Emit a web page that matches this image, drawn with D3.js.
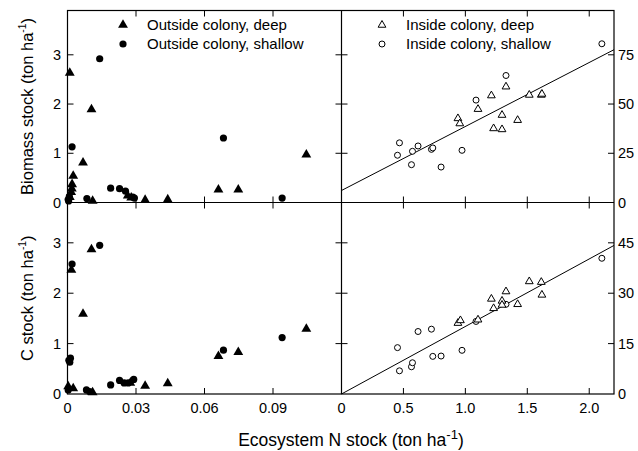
<!DOCTYPE html>
<html>
<head>
<meta charset="utf-8">
<script src="https://cdn.jsdelivr.net/npm/d3@7"></script>
<style>
  html, body { margin: 0; padding: 0; background: #fff; }
  svg { display: block; font-family: "Liberation Sans", Arial, sans-serif; }
</style>
</head>
<body>
<svg id="chart" width="638" height="451"></svg>
<script>
// ---------- data ----------
const leftXTicks = [0, 0.03, 0.06, 0.09];
const rightXTicks = [0, 0.5, 1.0, 1.5, 2.0];
const leftYTicks = [0, 1, 2, 3];
const rightYTicksBiomass = [0, 25, 50, 75];
const rightYTicksC = [0, 15, 30, 45];

// Outside colony (left panels): [N stock, stock]
const outsideDeepBiomass = [
  [0.0010, 2.63], [0.0105, 1.89], [0.0068, 0.81], [0.0025, 0.54], [0.0020, 0.37],
  [0.0019, 0.28], [0.0016, 0.21], [0.0010, 0.11], [0.0110, 0.03], [0.0264, 0.14],
  [0.0279, 0.10], [0.0340, 0.05], [0.0439, 0.06], [0.0661, 0.26], [0.0748, 0.26],
  [0.1046, 0.97]
];
const outsideShallowBiomass = [
  [0.0141, 2.92], [0.0020, 1.13], [0.0683, 1.31], [0.0940, 0.09], [0.0189, 0.29],
  [0.0228, 0.28], [0.0254, 0.23], [0.0286, 0.11], [0.0293, 0.09], [0.0085, 0.08],
  [0.0003, 0.06], [0.0008, 0.12], [0.0005, 0.03]
];
const outsideDeepC = [
  [0.0105, 2.87], [0.0017, 2.46], [0.0068, 1.59], [0.0439, 0.21], [0.0340, 0.16],
  [0.0661, 0.75], [0.0748, 0.83], [0.1046, 1.29], [0.0025, 0.11], [0.0003, 0.15],
  [0.0110, 0.03], [0.0275, 0.22]
];
const outsideShallowC = [
  [0.0141, 2.95], [0.0020, 2.58], [0.0013, 0.71], [0.0010, 0.63], [0.0006, 0.67],
  [0.0940, 1.12], [0.0683, 0.87], [0.0189, 0.18], [0.0228, 0.27], [0.0248, 0.22],
  [0.0266, 0.22], [0.0290, 0.29], [0.0083, 0.08], [0.0097, 0.05], [0.0003, 0.08]
];

// Inside colony (right panels): [N stock, stock]
const insideDeepBiomass = [
  [0.94, 42.7], [0.955, 40.1], [1.102, 47.4], [1.21, 54.3], [1.228, 37.6],
  [1.296, 37.1], [1.296, 44.4], [1.328, 58.8], [1.422, 41.8], [1.516, 54.6],
  [1.613, 54.6], [1.618, 55.1]
];
const insideShallowBiomass = [
  [0.452, 24.0], [0.468, 30.3], [0.565, 19.2], [0.573, 26.0], [0.618, 28.7],
  [0.726, 27.0], [0.737, 27.7], [0.804, 18.0], [0.973, 26.5], [1.086, 52.0],
  [1.328, 64.5], [2.102, 80.6]
];
const insideDeepC = [
  [0.94, 21.1], [0.96, 21.9], [1.102, 22.1], [1.21, 28.3], [1.228, 25.5],
  [1.296, 27.7], [1.296, 26.5], [1.328, 30.5], [1.422, 26.7], [1.516, 33.5],
  [1.613, 33.3], [1.618, 29.5]
];
const insideShallowC = [
  [0.452, 13.8], [0.468, 6.9], [0.565, 8.1], [0.573, 9.3], [0.618, 18.6],
  [0.726, 19.3], [0.737, 11.2], [0.804, 11.3], [0.973, 13.0], [1.086, 21.6],
  [1.328, 26.7], [2.102, 40.4]
];

// fitted regression lines (intercept, slope)
const regBiomass = [6.1, 32.5];
const regC = [0.0, 20.1];

const legendLeft = ["Outside colony, deep", "Outside colony, shallow"];
const legendRight = ["Inside colony, deep", "Inside colony, shallow"];

// ---------- layout ----------
const svg = d3.select("#chart");
const X0 = 67.5, XM = 341.5, X1 = 614;
const Y0 = 10.5, YM = 202.5, Y1 = 394;
const tickLen = 6;
const tickFont = 14.5;

const xLeft = d3.scaleLinear().domain([0, 0.12]).range([X0, XM]);
const xRight = d3.scaleLinear().domain([0, 2.2]).range([XM, X1]);
const yTopL = d3.scaleLinear().domain([0, 3.9]).range([YM, Y0]);
const yTopR = d3.scaleLinear().domain([0, 97.5]).range([YM, Y0]);
const yBotL = d3.scaleLinear().domain([0, 3.8]).range([Y1, YM]);
const yBotR = d3.scaleLinear().domain([0, 57]).range([Y1, YM]);

const frame = svg.append("g").attr("fill", "none").attr("stroke", "#000").attr("stroke-width", 1.2);

// inward ticks on all four sides of a panel
function panelTicks(xs, ys, xt, yt) {
  const g = svg.append("g").attr("stroke", "#000").attr("stroke-width", 1);
  const [ya, yb] = ys.range(); // bottom, top
  const [xa, xb] = xs.range();
  xt.forEach(t => {
    if (t === xs.domain()[0]) return;
    g.append("line").attr("x1", xs(t)).attr("x2", xs(t)).attr("y1", ya).attr("y2", ya - tickLen);
    g.append("line").attr("x1", xs(t)).attr("x2", xs(t)).attr("y1", yb).attr("y2", yb + tickLen);
  });
  yt.forEach(t => {
    if (t === ys.domain()[0]) return;
    g.append("line").attr("x1", xa).attr("x2", xa + tickLen).attr("y1", ys(t)).attr("y2", ys(t));
    g.append("line").attr("x1", xb).attr("x2", xb - tickLen).attr("y1", ys(t)).attr("y2", ys(t));
  });
}
panelTicks(xLeft, yTopL, leftXTicks, leftYTicks);
panelTicks(xLeft, yBotL, leftXTicks, leftYTicks);
panelTicks(xRight, yTopR, rightXTicks, rightYTicksBiomass);
panelTicks(xRight, yBotR, rightXTicks, rightYTicksC);

// frame lines
frame.append("rect").attr("x", X0).attr("y", Y0).attr("width", X1 - X0).attr("height", Y1 - Y0);
frame.append("line").attr("x1", XM).attr("x2", XM).attr("y1", Y0).attr("y2", Y1);
frame.append("line").attr("x1", X0).attr("x2", X1).attr("y1", YM).attr("y2", YM);

// tick labels
const labels = svg.append("g").attr("font-size", tickFont).attr("fill", "#000");
const fmtL = d => d === 0 ? "0" : d3.format(".2f")(d);
const fmtR = d => d === 0 ? "0" : d3.format(".1f")(d);
leftXTicks.forEach(t => labels.append("text").attr("x", xLeft(t)).attr("y", 413).attr("text-anchor", "middle").text(fmtL(t)));
rightXTicks.forEach(t => labels.append("text").attr("x", xRight(t)).attr("y", 413).attr("text-anchor", "middle").text(fmtR(t)));
leftYTicks.forEach(t => {
  labels.append("text").attr("x", 61).attr("y", yTopL(t)).attr("dy", "0.35em").attr("text-anchor", "end").text(t);
  labels.append("text").attr("x", 61).attr("y", yBotL(t)).attr("dy", "0.35em").attr("text-anchor", "end").text(t);
});
rightYTicksBiomass.forEach(t => labels.append("text").attr("x", 618).attr("y", yTopR(t)).attr("dy", "0.35em").text(t));
rightYTicksC.forEach(t => labels.append("text").attr("x", 618).attr("y", yBotR(t)).attr("dy", "0.35em").text(t));

// axis titles
const titleFont = 16.5;
function titleWithSup(g, main, fs, supScale, raise) {
  g.append("tspan").text(main);
  g.append("tspan").attr("font-size", fs * supScale).attr("dy", -raise).text("-1");
  g.append("tspan").attr("dy", raise).text(")");
}
const xt = svg.append("text").attr("x", 351).attr("y", 446).attr("text-anchor", "middle").attr("font-size", 17.5);
titleWithSup(xt, "Ecosystem N stock (ton ha", 17.5, 0.75, 7);
const yt1 = svg.append("text").attr("transform", `translate(33,${(Y0 + YM) / 2}) rotate(-90)`).attr("text-anchor", "middle").attr("font-size", titleFont);
titleWithSup(yt1, "Biomass stock (ton ha", titleFont, 0.62, 7);
const yt2 = svg.append("text").attr("transform", `translate(33,${(YM + Y1) / 2}) rotate(-90)`).attr("text-anchor", "middle").attr("font-size", titleFont);
titleWithSup(yt2, "C stock (ton ha", titleFont, 0.62, 7);

// regression lines
const lineG = svg.append("g").attr("stroke", "#000").attr("stroke-width", 1).attr("fill", "none");
[[regBiomass, yTopR], [regC, yBotR]].forEach(([r, ys]) => {
  const xs = xRight.domain();
  lineG.append("line")
    .attr("x1", xRight(xs[0])).attr("y1", ys(r[0] + r[1] * xs[0]))
    .attr("x2", xRight(xs[1])).attr("y2", ys(r[0] + r[1] * xs[1]));
});

// markers
const triFilled = d3.symbol().type(d3.symbolTriangle).size(42)();
const triOpen = d3.symbol().type(d3.symbolTriangle).size(26)();
function drawPts(data, xs, ys, kind) {
  const g = svg.append("g");
  data.forEach(([a, b]) => {
    const cx = xs(a), cy = ys(b);
    if (kind === "triF") g.append("path").attr("d", triFilled).attr("transform", `translate(${cx},${cy})`).attr("fill", "#000");
    else if (kind === "cirF") g.append("circle").attr("cx", cx).attr("cy", cy).attr("r", 3.6).attr("fill", "#000");
    else if (kind === "triO") g.append("path").attr("d", triOpen).attr("transform", `translate(${cx},${cy})`).attr("fill", "#fff").attr("stroke", "#000").attr("stroke-width", 1);
    else g.append("circle").attr("cx", cx).attr("cy", cy).attr("r", 3).attr("fill", "#fff").attr("stroke", "#000").attr("stroke-width", 1);
  });
}
drawPts(outsideDeepBiomass, xLeft, yTopL, "triF");
drawPts(outsideShallowBiomass, xLeft, yTopL, "cirF");
drawPts(outsideDeepC, xLeft, yBotL, "triF");
drawPts(outsideShallowC, xLeft, yBotL, "cirF");
drawPts(insideShallowBiomass, xRight, yTopR, "cirO");
drawPts(insideDeepBiomass, xRight, yTopR, "triO");
drawPts(insideShallowC, xRight, yBotR, "cirO");
drawPts(insideDeepC, xRight, yBotR, "triO");

// legends
function legend(x, items, filled) {
  const g = svg.append("g");
  items.forEach((label, i) => {
    const y = 25 + i * 19;
    if (i === 0) {
      g.append("path").attr("d", filled ? triFilled : triOpen).attr("transform", `translate(${x},${y})`)
        .attr("fill", filled ? "#000" : "#fff").attr("stroke", filled ? "none" : "#000");
    } else {
      g.append("circle").attr("cx", x).attr("cy", y).attr("r", filled ? 3.6 : 3)
        .attr("fill", filled ? "#000" : "#fff").attr("stroke", filled ? "none" : "#000");
    }
    g.append("text").attr("x", x + 24).attr("y", y).attr("dy", "0.35em").attr("font-size", 15).text(label);
  });
}
legend(123, legendLeft, true);
legend(382, legendRight, false);
</script>
</body>
</html>
